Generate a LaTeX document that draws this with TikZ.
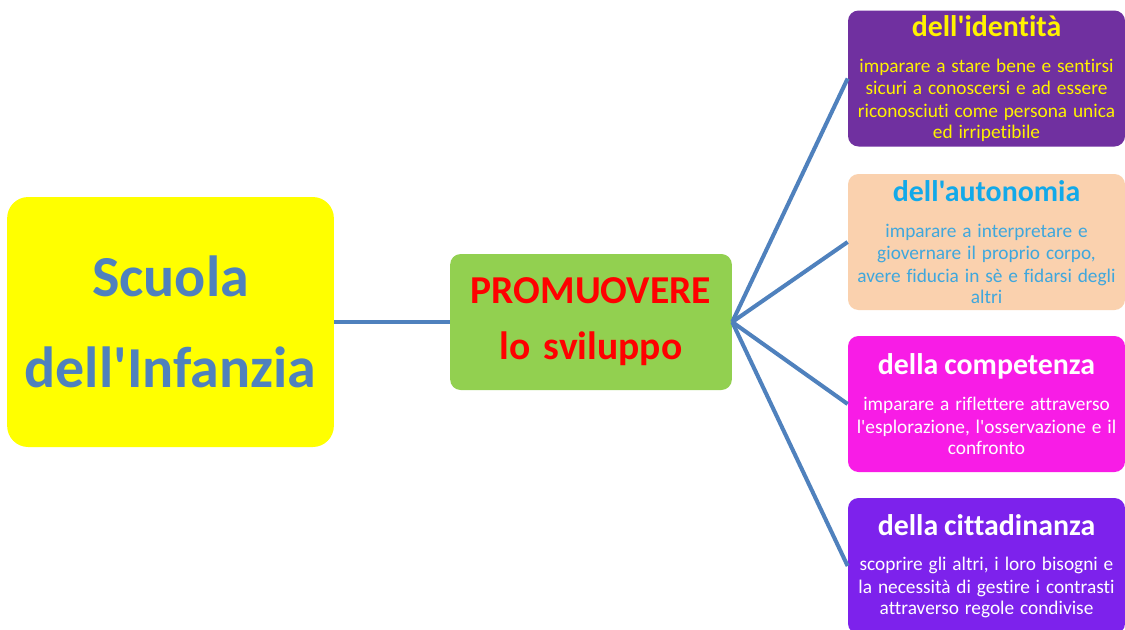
\documentclass[tikz,border=0pt]{standalone}
\usepackage{fontspec}
\setmainfont{Carlito}[Ligatures={TeXOff,CommonOff}]
\usepackage{xcolor}
\usepackage{tikz}
\usetikzlibrary{shapes}
\usetikzlibrary{positioning}
\definecolor{giallo}{HTML}{FFFF00}
\definecolor{bluscuro}{HTML}{4F81BD}
\definecolor{verde}{HTML}{92D050}
\definecolor{viola}{HTML}{7030A0}
\definecolor{pesca}{HTML}{FAD1AE}
\definecolor{ciano}{HTML}{12A9E9}
\definecolor{cianochiaro}{HTML}{3FA7DD}
\definecolor{magenta}{HTML}{F81CE6}
\definecolor{violetto}{HTML}{7D22EC}
\newcommand{\titolo}{\fontsize{17}{20}\selectfont\bfseries}
\newcommand{\corpo}{\fontsize{11}{12.8}\selectfont\mdseries}
\tikzstyle{radice}=[rectangle,rounded corners=12pt,fill=giallo,text=bluscuro,
        minimum width=6.5cm,minimum height=5cm,text width=6.3cm,align=center,
        font=\fontsize{33}{52}\selectfont\bfseries]
\tikzstyle{promuovi}=[rectangle,rounded corners=6pt,fill=verde,text=red,
        minimum width=5.6cm,minimum height=2.72cm,text width=5.4cm,align=center,
        font=\fontsize{22.5}{32}\selectfont\bfseries]
\tikzstyle{ambito}=[rectangle,rounded corners=6pt,inner sep=2pt,
        minimum width=5.5cm,minimum height=2.72cm,text width=5.4cm,align=center]
\tikzstyle{suite}=[draw=bluscuro,line width=2.3pt]

\begin{document}
\begin{tikzpicture}
\clip (0,0) rectangle (22.5,-12.58);
\fill[white] (0,0) rectangle (22.5,-12.58);
\node[radice] (scuola) at (3.41,-6.44) {Scuola\\dell'Infanzia};
\node[promuovi] (promo) at (11.82,-6.44) {PROMUOVERE\\lo sviluppo};
\node[ambito,fill=viola,text=yellow] (identita) at (19.73,-1.57)
  {\titolo dell'identità\par\vspace{7.6pt}\corpo imparare a stare bene e sentirsi\\sicuri a conoscersi e ad essere\\riconosciuti come persona unica\\ed irripetibile};
\node[ambito,fill=pesca] (autonomia) at (19.73,-4.84)
  {\titolo\color{ciano}dell'autonomia\par\vspace{7.6pt}\corpo\color{cianochiaro}imparare a interpretare e\\giovernare il proprio corpo,\\avere fiducia in sè e fidarsi degli\\altri};
\node[ambito,fill=magenta,text=white] (competenza) at (19.73,-8.08)
  {\titolo della competenza\par\vspace{7.6pt}\corpo imparare a riflettere attraverso\\l'esplorazione, l'osservazione e il\\confronto};
\node[ambito,fill=violetto,text=white] (cittadinanza) at (19.73,-11.32)
  {\titolo della cittadinanza\par\vspace{7.6pt}\corpo scoprire gli altri, i loro bisogni e\\la necessità di gestire i contrasti\\attraverso regole condivise};
%Drawing Edges
\draw[suite] (scuola) -- (promo);
\draw[suite] (promo.east) -- (identita.west);
\draw[suite] (promo.east) -- (autonomia.west);
\draw[suite] (promo.east) -- (competenza.west);
\draw[suite] (promo.east) -- (cittadinanza.west);
\end{tikzpicture}
\end{document}
